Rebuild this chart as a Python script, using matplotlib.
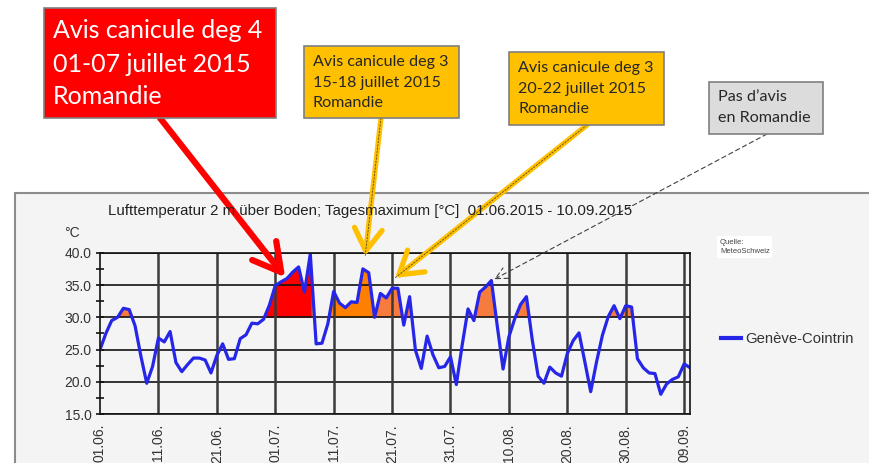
import numpy as np
import matplotlib
matplotlib.use("Agg")
import matplotlib.pyplot as plt
from matplotlib.patches import Rectangle

# daily maximum temperature, Genève-Cointrin, 01.06.2015 - 10.09.2015
temps = [25.0, 27.5, 29.5, 30.0, 31.4, 31.2, 28.7, 24.0, 19.8, 22.4,
         26.8, 26.2, 27.8, 23.0, 21.6, 22.7, 23.7, 23.7, 23.4, 21.4,
         24.1, 25.9, 23.5, 23.6, 26.7, 27.3, 29.1, 29.0, 29.7, 31.9,
         34.9, 35.5, 36.0, 37.0, 37.8, 33.9, 39.8, 25.9, 26.0, 29.0,
         34.0, 32.2, 31.5, 32.4, 32.3, 37.5, 36.9, 30.0, 33.7, 33.0,
         34.5, 34.5, 28.8, 33.2, 24.9, 22.1, 27.1, 24.2, 22.2, 22.4,
         23.9, 19.6, 25.7, 31.3, 29.5, 33.9, 34.7, 35.7, 28.7, 22.0,
         27.0, 29.8, 32.0, 33.2, 26.5, 20.9, 19.8, 22.3, 21.4, 20.9,
         24.4, 26.4, 27.6, 23.1, 18.5, 23.1, 27.2, 30.1, 31.8, 29.8,
         31.8, 31.6, 23.6, 22.2, 21.4, 21.3, 18.1, 19.7, 20.4, 20.8,
         22.8, 22.2]
days = np.arange(len(temps))

tick_days = [0, 10, 20, 30, 40, 50, 60, 70, 80, 90, 100]
tick_labels = ["01.06.", "11.06.", "21.06.", "01.07.", "11.07.", "21.07.",
               "31.07.", "10.08.", "20.08.", "30.08.", "09.09."]
y_ticks = [15, 20, 25, 30, 35, 40]

# warning periods (days since 01.06.) highlighted on the chart
red_period = (28, 36.2)
orange_period = (38.5, 47)

W, H = 869, 463
def fx(px):
    return px / W
def fy(py):
    return 1 - py / H

fig = plt.figure(figsize=(W / 100, H / 100), dpi=100)
fig.patch.set_facecolor("white")

# grey chart panel
fig.add_artist(Rectangle((fx(15), -0.1), 1.0, fy(193) + 0.1, transform=fig.transFigure,
                         facecolor="#F4F4F4", edgecolor="#8C8C8C", lw=1.5, zorder=0))

ax = fig.add_axes([fx(100), fy(414.3), (690 - 100) / W, (414.3 - 252.7) / H])
ax.set_facecolor("#F4F4F4")

# fills above 30 degC
xf = np.linspace(0, days[-1], 3000)
tf = np.interp(xf, days, temps)
hot = tf > 30
in_red = (xf >= red_period[0]) & (xf <= red_period[1])
in_orange = (xf >= orange_period[0]) & (xf <= orange_period[1])
ax.fill_between(xf, 30, tf, where=hot & ~in_red & ~in_orange, color="#F67B3C", lw=0, zorder=2)
ax.fill_between(xf, 30, tf, where=hot & in_red, color="#FF0000", lw=0, zorder=2)
ax.fill_between(xf, 30, tf, where=hot & in_orange, color="#FF8000", lw=0, zorder=2)

ax.plot(days, temps, color="#2626E8", lw=2.3, zorder=4, label="Genève-Cointrin",
        solid_joinstyle="round")

ax.set_xlim(0, 101)
ax.set_ylim(15, 40)
ax.set_yticks(y_ticks)
ax.set_yticklabels([f"{v:.1f}" for v in y_ticks])
ax.set_yticks(np.arange(17.5, 40, 5), minor=True)
ax.set_xticks(tick_days)
ax.set_xticklabels(tick_labels, rotation=90)
for v in y_ticks:
    ax.axhline(v, color="#111111", lw=1.2, zorder=3)
for d in tick_days[1:]:
    ax.axvline(d, color="#3A3A3A", lw=1.8, zorder=3)
ax.tick_params(axis="y", which="both", direction="inout", length=6, width=1.1,
               labelsize=10, labelcolor="#333333", pad=3)
ax.tick_params(axis="x", length=0, labelsize=10, labelcolor="#333333", pad=7)
for s in ax.spines.values():
    s.set_color("#111111")
    s.set_linewidth(1.2)
    s.set_zorder(5)
for lab in ax.get_xticklabels() + ax.get_yticklabels():
    lab.set_family("Liberation Sans")

ax.text(-0.06, 1.1, "°C", transform=ax.transAxes, fontsize=10, color="#333333",
        family="Liberation Sans")
fig.text(fx(370), fy(211), "Lufttemperatur 2 m über Boden; Tagesmaximum [°C]  01.06.2015 - 10.09.2015",
         ha="center", va="center", fontsize=10.8, color="#222222", family="Liberation Sans")
fig.text(fx(720), fy(247), "Quelle:\nMeteoSchweiz", ha="left", va="center", fontsize=5.5,
         color="#444444", family="Liberation Sans", linespacing=1.5,
         bbox=dict(boxstyle="square,pad=0.35", fc="white", ec="none"))

leg = ax.legend(loc="center left", bbox_to_anchor=(1.043, 0.466), frameon=False,
                handlelength=1.3, handletextpad=0.3, borderaxespad=0,
                prop={"family": "Liberation Sans", "size": 10.7})
for t in leg.get_texts():
    t.set_color("#333333")
leg.get_lines()[0].set_linewidth(3)

# callout boxes
def box(x0, y0, x1, y1, face, lines, ys, tx, size, color):
    fig.add_artist(Rectangle((fx(x0), fy(y1)), (x1 - x0) / W, (y1 - y0) / H,
                             transform=fig.transFigure, facecolor=face,
                             edgecolor="#7F7F7F", lw=1.2, zorder=6))
    for line, y in zip(lines, ys):
        fig.text(fx(tx), fy(y), line, ha="left", va="center", fontsize=size,
                 color=color, family="Lato", zorder=7)

box(44, 8, 276, 118, "#FF0000", ["Avis canicule deg 4", "01-07 juillet 2015", "Romandie"],
    [31, 65, 97], 53, 18.0, "white")
box(304, 46, 459, 118, "#FFC000", ["Avis canicule deg 3", "15-18 juillet 2015", "Romandie"],
    [62, 83, 103], 313, 11.6, "#262626")
box(509, 52, 664, 125, "#FFC000", ["Avis canicule deg 3", "20-22 juillet 2015", "Romandie"],
    [68, 89, 109], 518, 11.6, "#262626")
box(709, 82, 823, 134, "#DCDCDC", ["Pas d’avis", "en Romandie"],
    [97, 118], 718, 11.6, "#262626")

# arrows (tip in data coords, tail in figure fraction)
def arrow(tip, tail, color, lw, style, ms, ls="-"):
    ax.annotate("", xy=tip, xycoords="data", xytext=(fx(tail[0]), fy(tail[1])),
                textcoords="figure fraction", annotation_clip=False,
                arrowprops=dict(arrowstyle=style, color=color, lw=lw, ls=ls,
                                mutation_scale=ms, shrinkA=0, shrinkB=0), zorder=8)

arrow((31.7, 36.2), (160, 118), "#FF0000", 4.5, "->,head_length=0.9,head_width=0.5", 22)
arrow((45.4, 39.5), (381, 118), "#FFC000", 3.8, "->,head_length=0.8,head_width=0.5", 20)
arrow((45.4, 39.5), (381, 118), "#5A4A20", 0.6, "-", 10, ls=(0, (2, 2)))
arrow((50.5, 36.1), (587, 125), "#FFC000", 3.8, "->,head_length=0.8,head_width=0.5", 20)
arrow((50.5, 36.1), (587, 125), "#5A4A20", 0.6, "-", 10, ls=(0, (2, 2)))
arrow((67.5, 35.9), (767, 134), "#404040", 0.8, "->,head_length=0.6,head_width=0.3", 14,
      ls=(0, (4, 3)))

fig.savefig("out.png", dpi=100)
